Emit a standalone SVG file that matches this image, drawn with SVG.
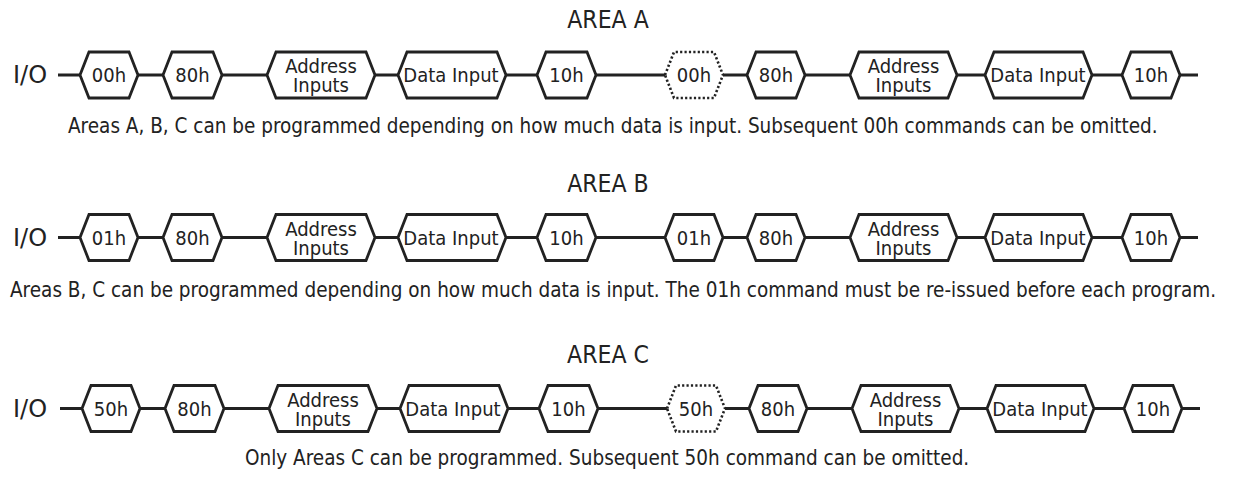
<svg xmlns="http://www.w3.org/2000/svg" width="1247" height="478" viewBox="0 0 1247 478">
<style>
text{font-family:"DejaVu Sans Condensed","DejaVu Sans",sans-serif;font-stretch:condensed;fill:#222;}
.lbl{font-size:20px;text-anchor:middle;}
.io{font-size:24px;font-family:"DejaVu Sans",sans-serif;font-stretch:normal;}
.title{font-size:24.5px;text-anchor:middle;}
.cap{font-size:20.5px;}
.hex{fill:#fff;stroke:#222;stroke-width:2.8;stroke-linejoin:miter;}
.dot{fill:#fff;stroke:#222;stroke-width:2.6;stroke-dasharray:2.2 2.2;}
.wire{stroke:#222;stroke-width:2.8;fill:none;}
</style>
<rect width="1247" height="478" fill="#fff"/>

<text class="title" x="608" y="28">AREA A</text>
<text class="title" x="608" y="192">AREA B</text>
<text class="title" x="608" y="363">AREA C</text>

<text class="io" x="13" y="83">I/O</text>
<text class="io" x="13" y="246">I/O</text>
<text class="io" x="13" y="417">I/O</text>

<g id="connectors">
<path class="wire" d="M58 75H80M138 75H163M222 75H267M375 75H398M506 75H537M596 75H665M723 75H747M805 75H850M957 75H985M1092 75H1122M1180 75H1198"/>
<path class="wire" d="M58 237.5H80M138 237.5H163M222 237.5H267M375 237.5H398M506 237.5H537M596 237.5H665M723 237.5H747M805 237.5H850M957 237.5H985M1092 237.5H1122M1180 237.5H1198"/>
<path class="wire" d="M60 408.5H82M140 408.5H165M224 408.5H269M377 408.5H400M508 408.5H539M598 408.5H667M725 408.5H749M807 408.5H852M959 408.5H987M1094 408.5H1124M1182 408.5H1200"/>
</g>

<!-- Row A -->
<g id="a1"><polygon class="hex" points="80,75 89,52 129,52 138,75 129,98 89,98"/><text class="lbl" x="109" y="82">00h</text></g>
<g id="a2"><polygon class="hex" points="163,75 172,52 213,52 222,75 213,98 172,98"/><text class="lbl" x="192.5" y="82">80h</text></g>
<g id="a3"><polygon class="hex" points="267,75 276,52 366,52 375,75 366,98 276,98"/><text class="lbl" x="321" y="73">Address</text><text class="lbl" x="321" y="92">Inputs</text></g>
<g id="a4"><polygon class="hex" points="398,75 407,52 497,52 506,75 497,98 407,98"/><text class="lbl" x="451" y="82">Data Input</text></g>
<g id="a5"><polygon class="hex" points="537,75 546,52 587,52 596,75 587,98 546,98"/><text class="lbl" x="566.5" y="82">10h</text></g>
<g id="a6"><polygon class="dot" points="665,75 674,52 714,52 723,75 714,98 674,98"/><text class="lbl" x="694" y="82">00h</text></g>
<g id="a7"><polygon class="hex" points="747,75 756,52 796,52 805,75 796,98 756,98"/><text class="lbl" x="776" y="82">80h</text></g>
<g id="a8"><polygon class="hex" points="850,75 859,52 948,52 957,75 948,98 859,98"/><text class="lbl" x="903.5" y="73">Address</text><text class="lbl" x="903.5" y="92">Inputs</text></g>
<g id="a9"><polygon class="hex" points="985,75 994,52 1083,52 1092,75 1083,98 994,98"/><text class="lbl" x="1038" y="82">Data Input</text></g>
<g id="a10"><polygon class="hex" points="1122,75 1131,52 1171,52 1180,75 1171,98 1131,98"/><text class="lbl" x="1151" y="82">10h</text></g>

<!-- Row B -->
<g id="b1"><polygon class="hex" points="80,237.5 89,214.5 129,214.5 138,237.5 129,260.5 89,260.5"/><text class="lbl" x="109" y="244.5">01h</text></g>
<g id="b2"><polygon class="hex" points="163,237.5 172,214.5 213,214.5 222,237.5 213,260.5 172,260.5"/><text class="lbl" x="192.5" y="244.5">80h</text></g>
<g id="b3"><polygon class="hex" points="267,237.5 276,214.5 366,214.5 375,237.5 366,260.5 276,260.5"/><text class="lbl" x="321" y="235.5">Address</text><text class="lbl" x="321" y="254.5">Inputs</text></g>
<g id="b4"><polygon class="hex" points="398,237.5 407,214.5 497,214.5 506,237.5 497,260.5 407,260.5"/><text class="lbl" x="451" y="244.5">Data Input</text></g>
<g id="b5"><polygon class="hex" points="537,237.5 546,214.5 587,214.5 596,237.5 587,260.5 546,260.5"/><text class="lbl" x="566.5" y="244.5">10h</text></g>
<g id="b6"><polygon class="hex" points="665,237.5 674,214.5 714,214.5 723,237.5 714,260.5 674,260.5"/><text class="lbl" x="694" y="244.5">01h</text></g>
<g id="b7"><polygon class="hex" points="747,237.5 756,214.5 796,214.5 805,237.5 796,260.5 756,260.5"/><text class="lbl" x="776" y="244.5">80h</text></g>
<g id="b8"><polygon class="hex" points="850,237.5 859,214.5 948,214.5 957,237.5 948,260.5 859,260.5"/><text class="lbl" x="903.5" y="235.5">Address</text><text class="lbl" x="903.5" y="254.5">Inputs</text></g>
<g id="b9"><polygon class="hex" points="985,237.5 994,214.5 1083,214.5 1092,237.5 1083,260.5 994,260.5"/><text class="lbl" x="1038" y="244.5">Data Input</text></g>
<g id="b10"><polygon class="hex" points="1122,237.5 1131,214.5 1171,214.5 1180,237.5 1171,260.5 1131,260.5"/><text class="lbl" x="1151" y="244.5">10h</text></g>

<!-- Row C -->
<g id="c1"><polygon class="hex" points="82,408.5 91,385.5 131,385.5 140,408.5 131,431.5 91,431.5"/><text class="lbl" x="111" y="415.5">50h</text></g>
<g id="c2"><polygon class="hex" points="165,408.5 174,385.5 215,385.5 224,408.5 215,431.5 174,431.5"/><text class="lbl" x="194.5" y="415.5">80h</text></g>
<g id="c3"><polygon class="hex" points="269,408.5 278,385.5 368,385.5 377,408.5 368,431.5 278,431.5"/><text class="lbl" x="323" y="406.5">Address</text><text class="lbl" x="323" y="425.5">Inputs</text></g>
<g id="c4"><polygon class="hex" points="400,408.5 409,385.5 499,385.5 508,408.5 499,431.5 409,431.5"/><text class="lbl" x="453" y="415.5">Data Input</text></g>
<g id="c5"><polygon class="hex" points="539,408.5 548,385.5 589,385.5 598,408.5 589,431.5 548,431.5"/><text class="lbl" x="568.5" y="415.5">10h</text></g>
<g id="c6"><polygon class="dot" points="667,408.5 676,385.5 716,385.5 725,408.5 716,431.5 676,431.5"/><text class="lbl" x="696" y="415.5">50h</text></g>
<g id="c7"><polygon class="hex" points="749,408.5 758,385.5 798,385.5 807,408.5 798,431.5 758,431.5"/><text class="lbl" x="778" y="415.5">80h</text></g>
<g id="c8"><polygon class="hex" points="852,408.5 861,385.5 950,385.5 959,408.5 950,431.5 861,431.5"/><text class="lbl" x="905.5" y="406.5">Address</text><text class="lbl" x="905.5" y="425.5">Inputs</text></g>
<g id="c9"><polygon class="hex" points="987,408.5 996,385.5 1085,385.5 1094,408.5 1085,431.5 996,431.5"/><text class="lbl" x="1040" y="415.5">Data Input</text></g>
<g id="c10"><polygon class="hex" points="1124,408.5 1133,385.5 1173,385.5 1182,408.5 1173,431.5 1133,431.5"/><text class="lbl" x="1153" y="415.5">10h</text></g>

<text class="cap" x="68" y="133">Areas A, B, C can be programmed depending on how much data is input. Subsequent 00h commands can be omitted.</text>
<text class="cap" x="10" y="297">Areas B, C can be programmed depending on how much data is input. The 01h command must be re-issued before each program.</text>
<text class="cap" x="245" y="465">Only Areas C can be programmed. Subsequent 50h command can be omitted.</text>
</svg>
